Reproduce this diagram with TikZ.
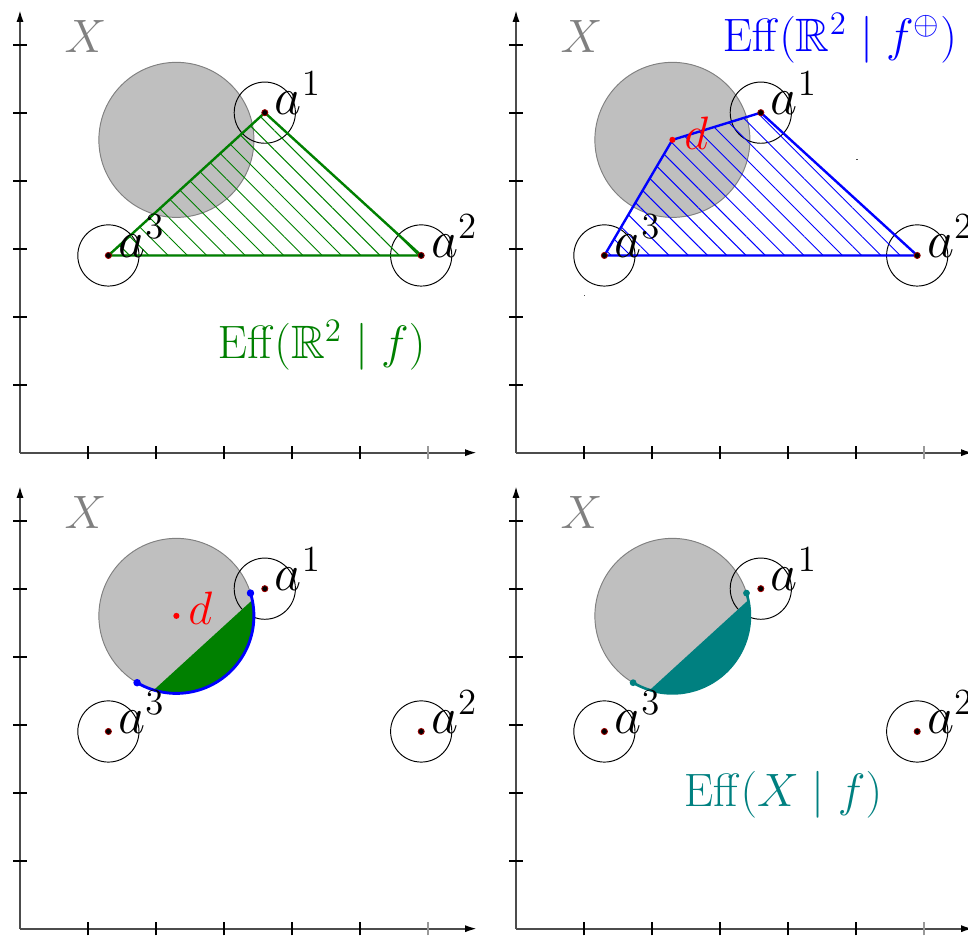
\documentclass[tikz,border=0pt]{standalone}
\usepackage{fix-cm}
\usepackage{amssymb}
\usetikzlibrary{arrows.meta,patterns.meta,calc}
\tikzset{
  axisline/.style={black!70, line width=0.8pt},
  tickmark/.style={black, line width=0.8pt},
  disk/.style={fill=gray!50, draw=gray, line width=0.4pt},
  ring/.style={draw=black, line width=0.4pt},
  lbl/.style={anchor=base west, inner sep=0pt, font=\fontsize{19.6}{23}\selectfont},
  albl/.style={anchor=base west, inner sep=0pt, font=\fontsize{22}{26}\selectfont},
  ptdot/.style={fill=black, draw=red!60!black, line width=0.35pt},
  hatchgreen/.style={pattern={Lines[angle=-45,distance=5.7pt,line width=0.4pt]}, pattern color=green!50!black},
  hatchblue/.style={pattern={Lines[angle=-45,distance=5.7pt,line width=0.4pt]}, pattern color=blue},
}
\newcommand\basepanel[1]{%
  \coordinate (#1o) at (0,0);
  \coordinate (#1xe) at (6.72,0);
  \coordinate (#1ye) at (0,6.51);
  \draw[axisline,-{Latex[length=5pt,width=3pt,color=black]}] (#1o) -- (#1xe);
  \draw[axisline,-{Latex[length=5pt,width=3pt,color=black]}] (#1o) -- (#1ye);
  \foreach \k in {1,...,5} {\draw[tickmark] (\k,-0.1) -- (\k,0.1);}
  \draw[tickmark,gray!80] (6,-0.1) -- (6,0.1);
  \foreach \k in {1,...,6} {\draw[tickmark] (-0.1,\k) -- (0.1,\k);}
  \coordinate (#1a1) at (3.6,5.0);
  \coordinate (#1a2) at (5.9,2.9);
  \coordinate (#1a3) at (1.3,2.9);
  \coordinate (#1d) at (2.3,4.6);
  \draw[disk] (#1d) circle (1.14);
  \draw[ring] (#1a1) circle (0.45);
  \draw[ring] (#1a2) circle (0.45);
  \draw[ring] (#1a3) circle (0.45);
  \node[lbl, text=gray] (#1X) at (0.65,5.89) {$X$};
}
\newcommand\pointset[1]{%
  \filldraw[ptdot] (#1a1) circle (0.045);
  \filldraw[ptdot] (#1a2) circle (0.045);
  \filldraw[ptdot] (#1a3) circle (0.045);
  \node[albl] (#1l1) at ($(#1a1)+(0.14,-0.03)$) {$a^1$};
  \node[albl] (#1l2) at ($(#1a2)+(0.14,-0.03)$) {$a^2$};
  \node[albl] (#1l3) at ($(#1a3)+(0.14,-0.03)$) {$a^3$};
}
\begin{document}
\begin{tikzpicture}
\useasboundingbox (-0.294,-7.093) rectangle (13.941,6.657);
\clip (-0.294,-7.093) rectangle (13.941,6.657);

% top left
\begin{scope}
  \basepanel{A}
  \draw[hatchgreen] (Aa3) -- (Aa1) -- (Aa2) -- cycle;
  \draw[green!50!black, line width=1pt, line join=round] (Aa3) -- (Aa1) -- (Aa2) -- cycle;
  \pointset{A}
  \node[lbl, text=green!50!black] (Aeff) at (2.9,1.39) {$\mathrm{Eff}(\mathbb{R}^2 \mid f)$};
\end{scope}

% top right
\begin{scope}[shift={(7.294,0)}]
  \basepanel{B}
  \draw[hatchblue] (Ba3) -- (Bd) -- (Ba1) -- (Ba2) -- cycle;
  \draw[blue, line width=1pt, line join=round] (Ba3) -- (Bd) -- (Ba1) -- (Ba2) -- cycle;
  \fill[red] (Bd) circle (0.045);
  \node[lbl, text=red] (Bdl) at ($(Bd)+(0.17,-0.14)$) {$d$};
  \pointset{B}
  \node[lbl, text=blue] (Beff) at (3.03,5.90) {$\mathrm{Eff}(\mathbb{R}^2 \mid f^{\oplus})$};
  \fill[black!70] (5.0,4.3) rectangle +(0.03,0.015);
  \fill[black!70] (1.0,2.3) rectangle +(0.015,0.015);
\end{scope}

% bottom left
\begin{scope}[shift={(0,-7.0)}]
  \basepanel{C}
  \begin{scope}
    \clip (Cd) circle (1.14);
    \fill[green!50!black] (Ca3) -- (Ca1) -- (Ca2) -- cycle;
  \end{scope}
  \coordinate (Cp3) at ($(Cd)+(-120.47:1.14)$);
  \coordinate (Cp1) at ($(Cd)+(17.10:1.14)$);
  \draw[blue, line width=1.2pt] (Cp3) arc[start angle=-120.47, end angle=17.10, radius=1.14];
  \fill[blue] (Cp3) circle (0.055);
  \fill[blue] (Cp1) circle (0.055);
  \fill[red] (Cd) circle (0.045);
  \node[lbl, text=red] (Cdl) at ($(Cd)+(0.17,-0.12)$) {$d$};
  \pointset{C}
\end{scope}

% bottom right
\begin{scope}[shift={(7.294,-7.0)}]
  \basepanel{D}
  \begin{scope}
    \clip (Dd) circle (1.14);
    \fill[teal] (Da3) -- (Da1) -- (Da2) -- cycle;
  \end{scope}
  \coordinate (Dp3) at ($(Dd)+(-120.47:1.14)$);
  \coordinate (Dp1) at ($(Dd)+(17.10:1.14)$);
  \draw[teal, line width=1.1pt] (Dp3) arc[start angle=-120.47, end angle=17.10, radius=1.14];
  \fill[teal] (Dp3) circle (0.05);
  \fill[teal] (Dp1) circle (0.05);
  \pointset{D}
  \node[lbl, text=teal] (Deff) at (2.46,1.80) {$\mathrm{Eff}(X \mid f)$};
\end{scope}
\end{tikzpicture}
\end{document}
